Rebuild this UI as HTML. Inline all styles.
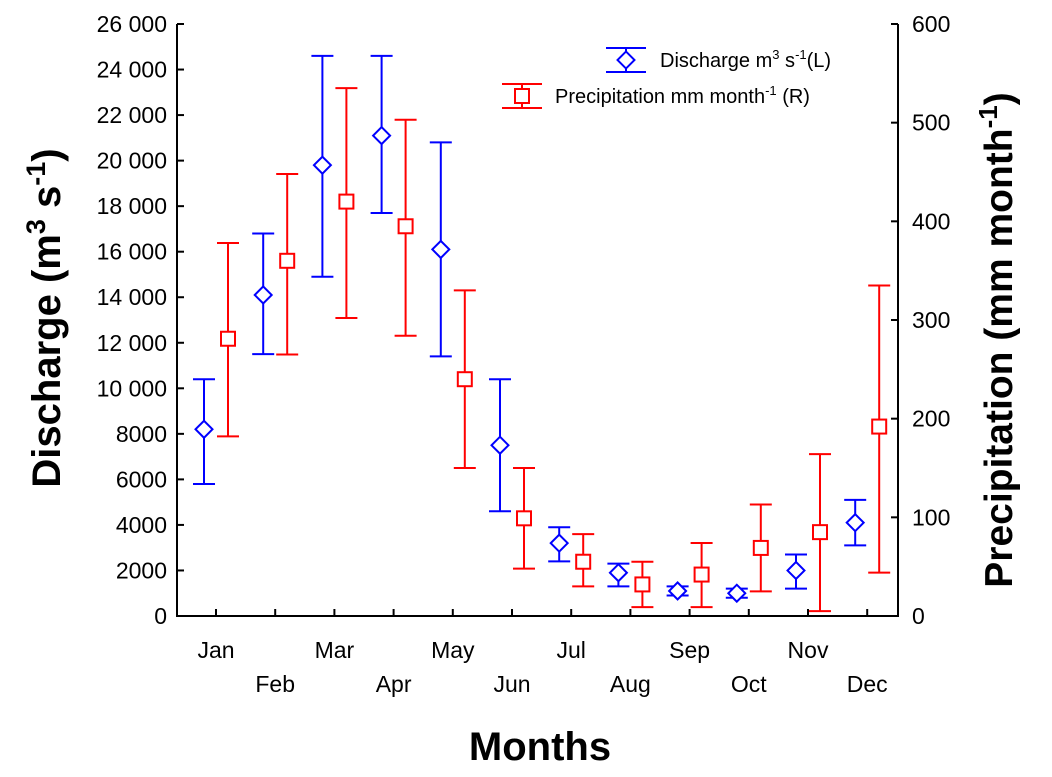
<!DOCTYPE html>
<html><head><meta charset="utf-8"><style>
html,body{margin:0;padding:0;background:#fff;}
svg{display:block;font-family:"Liberation Sans",Arial,sans-serif;}
</style></head><body>
<svg id="chart" width="1052" height="777" viewBox="0 0 1052 777">
<g id="axes"></g><g id="marks"></g>
<g>
 <g>
  <line x1="626" y1="48" x2="626" y2="72" stroke="#0000ff" stroke-width="2"/>
  <line x1="606" y1="48" x2="646" y2="48" stroke="#0000ff" stroke-width="2"/>
  <line x1="606" y1="72" x2="646" y2="72" stroke="#0000ff" stroke-width="2"/>
  <rect x="620" y="54" width="12" height="12" transform="rotate(45 626 60)" fill="#fff" stroke="#0000ff" stroke-width="2"/>
  <text x="660" y="67" font-size="20">Discharge m<tspan font-size="13" dy="-8">3</tspan><tspan dy="8"> s</tspan><tspan font-size="13" dy="-8">-1</tspan><tspan dy="8">(L)</tspan></text>
 </g>
 <g>
  <line x1="522" y1="84" x2="522" y2="108" stroke="#ff0000" stroke-width="2"/>
  <line x1="502" y1="84" x2="542" y2="84" stroke="#ff0000" stroke-width="2"/>
  <line x1="502" y1="108" x2="542" y2="108" stroke="#ff0000" stroke-width="2"/>
  <rect x="515" y="89" width="14" height="14" fill="#fff" stroke="#ff0000" stroke-width="2"/>
  <text x="555" y="103" font-size="20">Precipitation mm month<tspan font-size="13" dy="-8">-1</tspan><tspan dy="8"> (R)</tspan></text>
 </g>
</g>
<text x="60" y="318" font-size="40" font-weight="bold" text-anchor="middle" transform="rotate(-90 60 318)">Discharge (m<tspan font-size="27" dy="-15">3</tspan><tspan dy="15"> s</tspan><tspan font-size="27" dy="-15">-1</tspan><tspan dy="15">)</tspan></text>
<text x="1012" y="340" font-size="39" font-weight="bold" text-anchor="middle" transform="rotate(-90 1012 340)">Precipitation (mm month<tspan font-size="26" dy="-15">-1</tspan><tspan dy="15">)</tspan></text>
<text x="540" y="760" font-size="40" font-weight="bold" text-anchor="middle">Months</text>
</svg>
<script>
const months=["Jan","Feb","Mar","Apr","May","Jun","Jul","Aug","Sep","Oct","Nov","Dec"];
const dischargeMean=[8200,14100,19800,21100,16100,7500,3200,1900,1100,1000,2000,4100];
const dischargeLow=[5800,11500,14900,17700,11400,4600,2400,1300,900,800,1200,3100];
const dischargeHigh=[10400,16800,24600,24600,20800,10400,3900,2300,1300,1200,2700,5100];
const precipMean=[281,360,420,395,240,99,55,32,42,69,85,192];
const precipLow=[182,265,302,284,150,48,30,9,9,25,5,44];
const precipHigh=[378,448,535,503,330,150,83,55,74,113,164,335];
const leftTicks=[0,2000,4000,6000,8000,10000,12000,14000,16000,18000,20000,22000,24000,26000];
const rightTicks=[0,100,200,300,400,500,600];
const NS="http://www.w3.org/2000/svg";
const X0=177,X1=898,Y0=616,Y1=24;
const yL=v=>Y0-(v/26000)*(Y0-Y1);
const yR=v=>Y0-(v/600)*(Y0-Y1);
const xm=i=>216+59.2*i;
function mk(tag,attrs,parent){const e=document.createElementNS(NS,tag);for(const k in attrs)e.setAttribute(k,attrs[k]);parent.appendChild(e);return e;}
const axes=document.getElementById('axes'),marks=document.getElementById('marks');
let fr=mk('path',{d:`M${X0},${Y1}V${Y0}H${X1}V${Y1}`,fill:'none',stroke:'#000','stroke-width':2},axes);


function fmt(v){return v>=10000?String(v).replace(/(\d+)(\d{3})$/,'$1 $2'):String(v);}
leftTicks.forEach(v=>{
 const y=yL(v);
 mk('line',{x1:X0,y1:y,x2:X0+7,y2:y,stroke:'#000','stroke-width':2},axes);
 const t=mk('text',{x:X0-10,y:y+8,'font-size':23,'text-anchor':'end'},axes);
 t.textContent=fmt(v);
 
 
});
rightTicks.forEach(v=>{
 const y=yR(v);
 mk('line',{x1:X1-7,y1:y,x2:X1,y2:y,stroke:'#000','stroke-width':2},axes);
 const t=mk('text',{x:X1+14,y:y+8,'font-size':23,'text-anchor':'start'},axes);
 t.textContent=v;
 
 
});
months.forEach((m,i)=>{
 const x=xm(i);
 mk('line',{x1:x,y1:Y0-7,x2:x,y2:Y0,stroke:'#000','stroke-width':2},axes);
 const t=mk('text',{x:x,y:i%2===0?658:692,'font-size':23,'text-anchor':'middle'},axes);
 t.textContent=m;
 
 
});
function errbar(x,lo,hi,col,name){
 const g=mk('g',{},marks);
 
 
 mk('line',{x1:x,y1:lo,x2:x,y2:hi,stroke:col,'stroke-width':2},g);
 mk('line',{x1:x-11,y1:lo,x2:x+11,y2:lo,stroke:col,'stroke-width':2},g);
 mk('line',{x1:x-11,y1:hi,x2:x+11,y2:hi,stroke:col,'stroke-width':2},g);
 return g;
}
months.forEach((m,i)=>{
 const xd=xm(i)-12,xp=xm(i)+12;
 const g1=errbar(xd,yL(dischargeLow[i]),yL(dischargeHigh[i]),'#0000ff','discharge-errorbar');
 const yd=yL(dischargeMean[i]);
 const d=mk('rect',{x:xd-6,y:yd-6,width:12,height:12,transform:`rotate(45 ${xd} ${yd})`,fill:'#fff',stroke:'#0000ff','stroke-width':2},g1);
 
 
 const g2=errbar(xp,yR(precipLow[i]),yR(precipHigh[i]),'#ff0000','precipitation-errorbar');
 const yp=yR(precipMean[i]);
 const s=mk('rect',{x:xp-7,y:yp-7,width:14,height:14,fill:'#fff',stroke:'#ff0000','stroke-width':2},g2);
 
 
});
</script>
</body></html>
